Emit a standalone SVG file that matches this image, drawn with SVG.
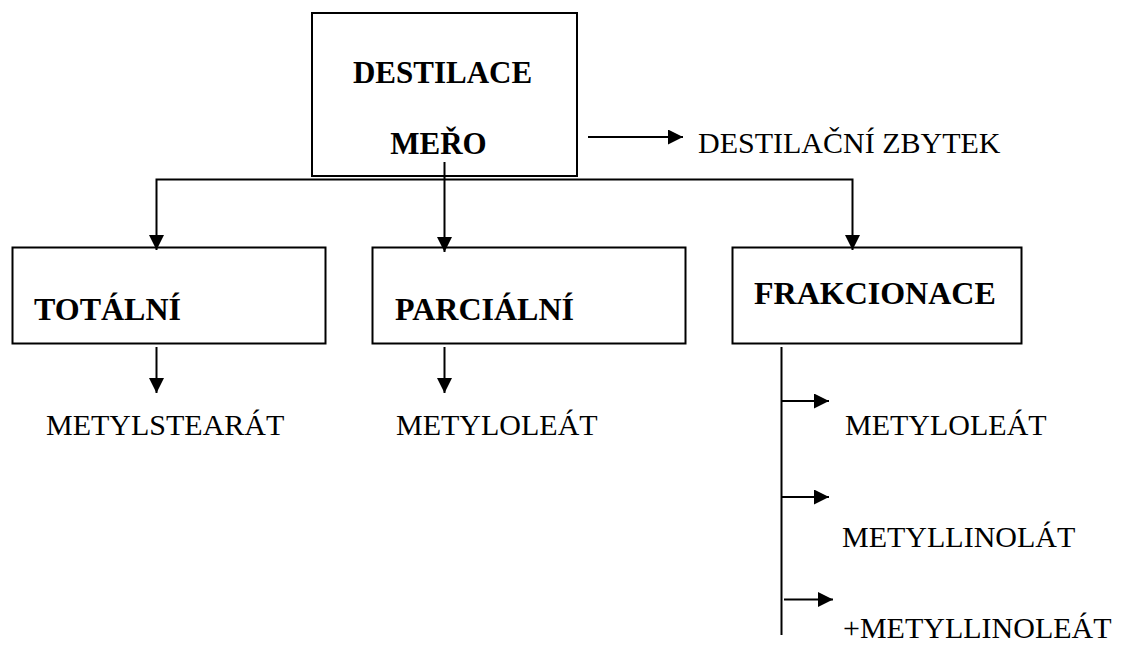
<svg xmlns="http://www.w3.org/2000/svg" width="1130" height="648" viewBox="0 0 1130 648">
  <style>
    .box { fill: #ffffff; stroke: #000000; stroke-width: 2; }
    .wire { fill: none; stroke: #000000; stroke-width: 2; }
    text { font-family: 'Liberation Serif', 'Times New Roman', Times, serif; fill: #000000; }
    .head { font-weight: bold; }
    .item { font-size: 30px; }
  </style>
  <defs>
    <marker id="arrow" viewBox="0 0 15 15" refX="15" refY="7.5" markerWidth="15" markerHeight="15" markerUnits="userSpaceOnUse" orient="auto">
      <path d="M0,0 L15,7.5 L0,15 z" fill="#000000"/>
    </marker>
  </defs>

  <rect width="1130" height="648" fill="#ffffff"/>

  <!-- main distillation step -->
  <g id="destilace">
    <rect class="box" x="312" y="13" width="265" height="163"/>
    <text class="head" x="442.5" y="83" font-size="31" text-anchor="middle">DESTILACE</text>
    <text class="head" x="438.5" y="154" font-size="31" text-anchor="middle">MEŘO</text>
  </g>

  <g id="zbytek">
    <text class="item" x="698" y="153">DESTILAČNÍ ZBYTEK</text>
  </g>

  <g id="totalni">
    <rect class="box" x="12.5" y="247.5" width="313" height="96"/>
    <text class="head" x="34" y="320" font-size="32">TOTÁLNÍ</text>
  </g>

  <g id="parcialni">
    <rect class="box" x="372.5" y="247.5" width="313" height="96"/>
    <text class="head" x="395" y="320" font-size="32">PARCIÁLNÍ</text>
  </g>

  <g id="frakcionace">
    <rect class="box" x="732.5" y="247.5" width="289" height="96"/>
    <text class="head" x="754" y="304" font-size="32">FRAKCIONACE</text>
  </g>

  <!-- products -->
  <g id="metylstearat">
    <text class="item" x="46" y="435">METYLSTEARÁT</text>
  </g>
  <g id="metyloleat-parcialni">
    <text class="item" x="396" y="435">METYLOLEÁT</text>
  </g>
  <g id="metyloleat-frakce">
    <text class="item" x="845" y="435">METYLOLEÁT</text>
  </g>
  <g id="metyllinolat">
    <text class="item" x="842" y="547">METYLLINOLÁT</text>
  </g>
  <g id="metyllinoleat">
    <text class="item" x="843" y="638">+METYLLINOLEÁT</text>
  </g>

  <!-- connectors -->
  <g id="connectors">
    <path class="wire" d="M444.5,162 V252" marker-end="url(#arrow)"/>
    <path class="wire" d="M444.5,179.5 H156.5 V250" marker-end="url(#arrow)"/>
    <path class="wire" d="M444.5,179.5 H852.5 V250" marker-end="url(#arrow)"/>
    <path class="wire" d="M588,137 H683" marker-end="url(#arrow)"/>
    <path class="wire" d="M156.5,347 V393" marker-end="url(#arrow)"/>
    <path class="wire" d="M444.5,347 V393" marker-end="url(#arrow)"/>
    <path class="wire" d="M781.5,347 V635"/>
    <path class="wire" d="M781.5,401 H829" marker-end="url(#arrow)"/>
    <path class="wire" d="M781.5,497 H829" marker-end="url(#arrow)"/>
    <path class="wire" d="M784,599.5 H833" marker-end="url(#arrow)"/>
  </g>
</svg>
